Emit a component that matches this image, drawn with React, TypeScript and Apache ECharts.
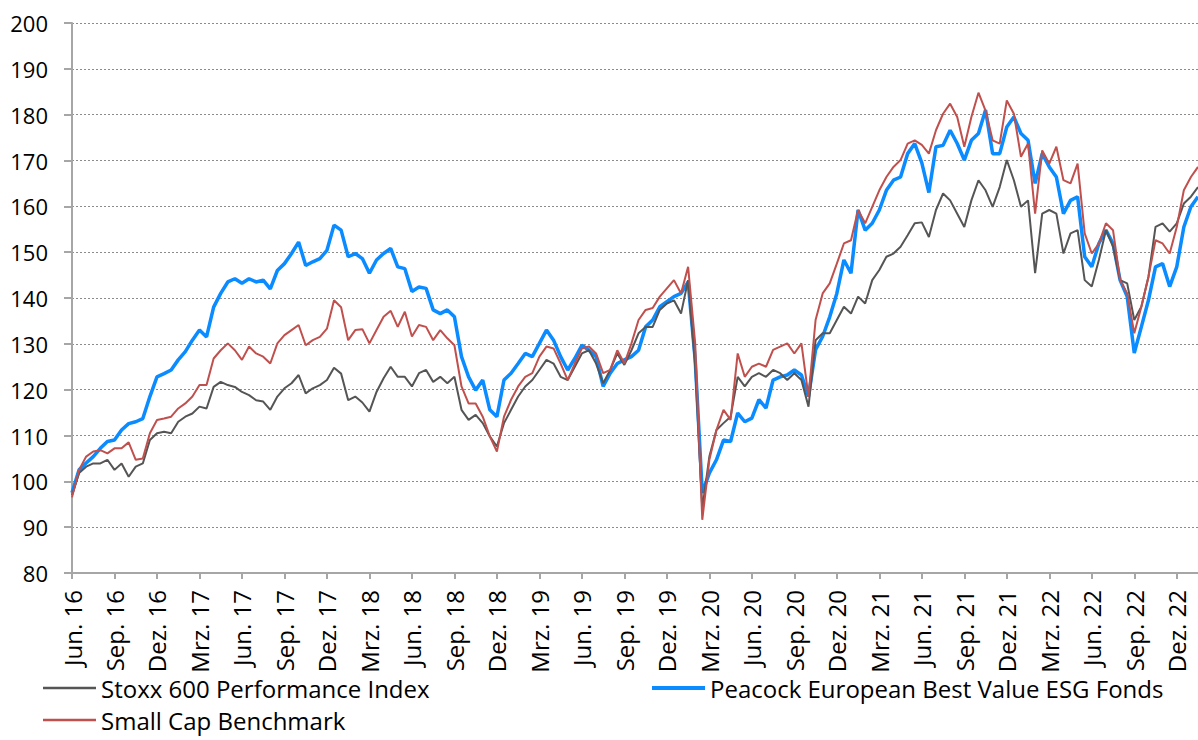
import React, { useEffect, useRef } from "react";
import * as echarts from "echarts";

// German month abbreviations for the axis labels
const MONTHS = ["Jan.", "Feb.", "Mrz.", "Apr.", "Mai", "Jun.", "Jul.", "Aug.", "Sep.", "Okt.", "Nov.", "Dez."];

// Half-monthly observation dates from 1 Jun 2016 to mid Feb 2023
const dates: string[] = [];
for (let i = 0; i < 160; i++) {
  const mAbs = 5 + Math.floor(i / 2);
  const y = 2016 + Math.floor(mAbs / 12);
  const m = mAbs % 12;
  dates.push(`${y}-${String(m + 1).padStart(2, "0")}-${i % 2 === 0 ? "01" : "16"}`);
}

const peacock = [
  97.5, 102.5, 104, 105.4, 107.2, 108.7, 109, 111.2, 112.6, 113,
  113.7, 118.5, 122.8, 123.5, 124.3, 126.5, 128.3, 130.8, 133, 131.5,
  138, 141, 143.5, 144.2, 143.2, 144.2, 143.5, 143.9, 142, 146,
  147.5, 149.7, 152.2, 147.1, 147.9, 148.6, 150.4, 155.9, 154.8, 149,
  149.7, 148.6, 145.4, 148.3, 149.7, 150.8, 146.8, 146.4, 141.4, 142.4,
  142.1, 137.4, 136.6, 137.4, 135.9, 127.2, 122.8, 119.9, 122.1, 115.6,
  114.1, 122.1, 123.6, 125.7, 127.9, 127.2, 130.1, 133, 130.8, 127.2,
  124.3, 126.8, 129.7, 128.6, 127.2, 120.7, 123.6, 125.7, 126.5, 127.2,
  128.6, 133.7, 135.2, 138.1, 139.2, 140.3, 141, 143.5, 126.5, 97.5,
  101.8, 104.7, 109, 108.7, 114.9, 113, 113.8, 117.8, 116, 122.1,
  122.8, 123.2, 124.3, 123.2, 118.5, 128.7, 131.6, 135.9, 141, 148.3,
  145.4, 159.2, 154.8, 156.3, 159.2, 163.5, 165.7, 166.4, 171.5, 173.7,
  169.5, 163, 173, 173.3, 176.6, 173.7, 170.1, 174.4, 175.9, 181,
  171.5, 171.5, 177.3, 179.5, 175.9, 174.4, 165, 171.5, 168.6, 166.4,
  158.4, 161.3, 162.1, 149, 146.8, 151.9, 154.8, 151.9, 143.9, 140.3,
  128, 133.7, 139.5, 146.8, 147.5, 142.5, 146.8, 155.5, 159.9, 162.1,
];

const smallCap = [
  96.5, 102.5, 105.4, 106.5, 106.8, 106.1, 107.2, 107.2, 108.5, 104.7,
  105, 110.5, 113.4, 113.7, 114.1, 115.9, 117, 118.5, 121, 121,
  126.8, 128.6, 130.1, 128.6, 126.5, 129.4, 127.9, 127.2, 125.7, 130.1,
  131.9, 133, 134.1, 129.7, 130.8, 131.5, 133.3, 139.5, 138, 130.8,
  133, 133.2, 130.1, 133, 135.9, 137.2, 133.7, 137, 131.6, 134.1,
  133.7, 130.8, 133, 131.2, 129.7, 120.7, 117, 117, 114.1, 109.8,
  106.5, 114.1, 117.8, 120.7, 122.8, 123.6, 127.2, 129.4, 129, 125.7,
  122.1, 125.7, 129, 129.4, 127.9, 123.6, 124.3, 128.6, 125.7, 130.1,
  135.2, 137.4, 137.8, 140.3, 142.1, 143.9, 141, 146.8, 130.1, 91.6,
  104.7, 111.2, 115.6, 113.4, 127.9, 122.8, 125, 125.7, 125, 128.7,
  129.4, 130.1, 127.9, 130.1, 118.5, 135.2, 141, 143.2, 147.5, 151.9,
  152.6, 159.2, 156.3, 159.9, 163.5, 166.4, 168.6, 170.1, 173.7, 174.4,
  173.4, 171.5, 176.6, 180.2, 182.4, 179.5, 173, 179.5, 184.8, 180.9,
  174.4, 173.7, 183.1, 180.2, 170.8, 173.7, 158.4, 172.2, 169.3, 173,
  165.7, 165, 169.3, 154.1, 149.7, 151.9, 156.3, 154.8, 143.9, 141,
  132.3, 138.1, 144.6, 152.6, 151.9, 149.7, 155.5, 163.5, 166.4, 168.6,
];

const stoxx = [
  97, 101.8, 103.2, 103.9, 103.9, 104.7, 102.5, 103.9, 101, 103.2,
  103.9, 109, 110.5, 110.8, 110.5, 113, 114.1, 114.8, 116.3, 115.9,
  120.6, 121.7, 121, 120.6, 119.5, 118.8, 117.7, 117.4, 115.6, 118.5,
  120.3, 121.4, 123.2, 119.2, 120.3, 121, 122.1, 124.8, 123.5, 117.7,
  118.5, 117.2, 115.2, 119.5, 122.5, 125, 122.8, 122.8, 120.7, 123.6,
  124.3, 121.7, 122.8, 121.4, 122.8, 115.6, 113.4, 114.5, 112.7, 109.8,
  107.6, 112.7, 115.6, 118.5, 120.7, 122.1, 124.3, 126.5, 125.7, 122.8,
  122.1, 125, 127.9, 128.6, 125.7, 121.4, 124.3, 127.9, 125.4, 128.6,
  132.3, 133.7, 133.7, 137.4, 138.8, 139.5, 136.6, 143.9, 125, 94,
  105.4, 111.2, 112.7, 114.1, 122.8, 120.7, 122.8, 123.6, 122.8, 124.3,
  123.6, 122.1, 123.6, 122.1, 116.3, 130.8, 132.3, 132.3, 135.2, 138.1,
  136.6, 140.3, 138.8, 143.9, 146.1, 149, 149.7, 151.2, 153.7, 156.3,
  156.5, 153.3, 159.2, 162.8, 161.3, 158.4, 155.5, 161.3, 165.7, 163.5,
  159.9, 164.2, 170.1, 165.7, 159.9, 161.3, 145.4, 158.4, 159.2, 158.4,
  149.7, 154.1, 154.8, 143.9, 142.5, 148.3, 154.8, 151.2, 143.9, 143.2,
  135.2, 138.1, 144.6, 155.5, 156.3, 154.5, 156.3, 160.6, 162.1, 164.2,
];

const NAME_STOXX = "Stoxx 600 Performance Index";
const NAME_PEACOCK = "Peacock European Best Value ESG Fonds";
const NAME_SMALL = "Small Cap Benchmark";

const FONT = "'Open Sans', 'Noto Sans', sans-serif";

const legendText = { fontSize: 24, color: "#000", fontFamily: FONT };

export default function App() {
  const ref = useRef<HTMLDivElement>(null);

  useEffect(() => {
    if (!ref.current) return;
    const chart = echarts.init(ref.current, undefined, { renderer: "svg" });
    const fmt = (v: string) => {
      const [y, m] = v.split("-");
      return `${MONTHS[Number(m) - 1]} ${y.slice(2)}`;
    };
    chart.setOption({
      animation: false,
      backgroundColor: "#ffffff",
      textStyle: { fontFamily: FONT },
      grid: { left: 72, right: 0, top: 23, bottom: 167, containLabel: false },
      legend: [
        {
          data: [NAME_STOXX],
          left: 43,
          top: 676,
          icon: "rect",
          itemWidth: 53,
          itemHeight: 2.5,
          padding: 0,
          textStyle: legendText,
        },
        {
          data: [NAME_SMALL],
          left: 43,
          top: 708,
          icon: "rect",
          itemWidth: 53,
          itemHeight: 2.5,
          padding: 0,
          textStyle: legendText,
        },
        {
          data: [NAME_PEACOCK],
          left: 652,
          top: 676,
          icon: "rect",
          itemWidth: 53,
          itemHeight: 4,
          padding: 0,
          textStyle: legendText,
        },
      ],
      xAxis: {
        type: "category",
        data: dates,
        boundaryGap: false,
        axisLine: { show: true, lineStyle: { color: "#a6a6a6", width: 2 } },
        axisTick: {
          show: true,
          length: 6,
          interval: (idx: number) => idx % 6 === 0,
          lineStyle: { color: "#a6a6a6", width: 2 },
        },
        axisLabel: {
          interval: (idx: number) => idx % 6 === 0,
          rotate: 90,
          margin: 17,
          fontSize: 24,
          color: "#000",
          fontFamily: FONT,
          formatter: fmt,
        },
        splitLine: { show: false },
      },
      yAxis: {
        type: "value",
        min: 80,
        max: 200,
        interval: 10,
        axisLine: { show: true, lineStyle: { color: "#a6a6a6", width: 2 } },
        axisTick: { show: true, length: 8, lineStyle: { color: "#a6a6a6", width: 2 } },
        axisLabel: { margin: 24, fontSize: 22, color: "#000", fontFamily: FONT },
        splitLine: { show: true, lineStyle: { color: "#8c8c8c", width: 1, type: [2, 2] } },
      },
      series: [
        {
          name: NAME_PEACOCK,
          type: "line",
          data: peacock,
          symbol: "none",
          showSymbol: false,
          lineStyle: { color: "#0a8bff", width: 3.5 },
          itemStyle: { color: "#0a8bff" },
          z: 2,
        },
        {
          name: NAME_STOXX,
          type: "line",
          data: stoxx,
          symbol: "none",
          showSymbol: false,
          lineStyle: { color: "#555555", width: 2 },
          itemStyle: { color: "#555555" },
          z: 3,
        },
        {
          name: NAME_SMALL,
          type: "line",
          data: smallCap,
          symbol: "none",
          showSymbol: false,
          lineStyle: { color: "#c0504d", width: 2 },
          itemStyle: { color: "#c0504d" },
          z: 4,
        },
      ],
    });
    return () => chart.dispose();
  }, []);

  return (
    <div
      ref={ref}
      style={{ position: "fixed", left: 0, top: 0, width: 1198, height: 740, background: "#fff" }}
    />
  );
}
